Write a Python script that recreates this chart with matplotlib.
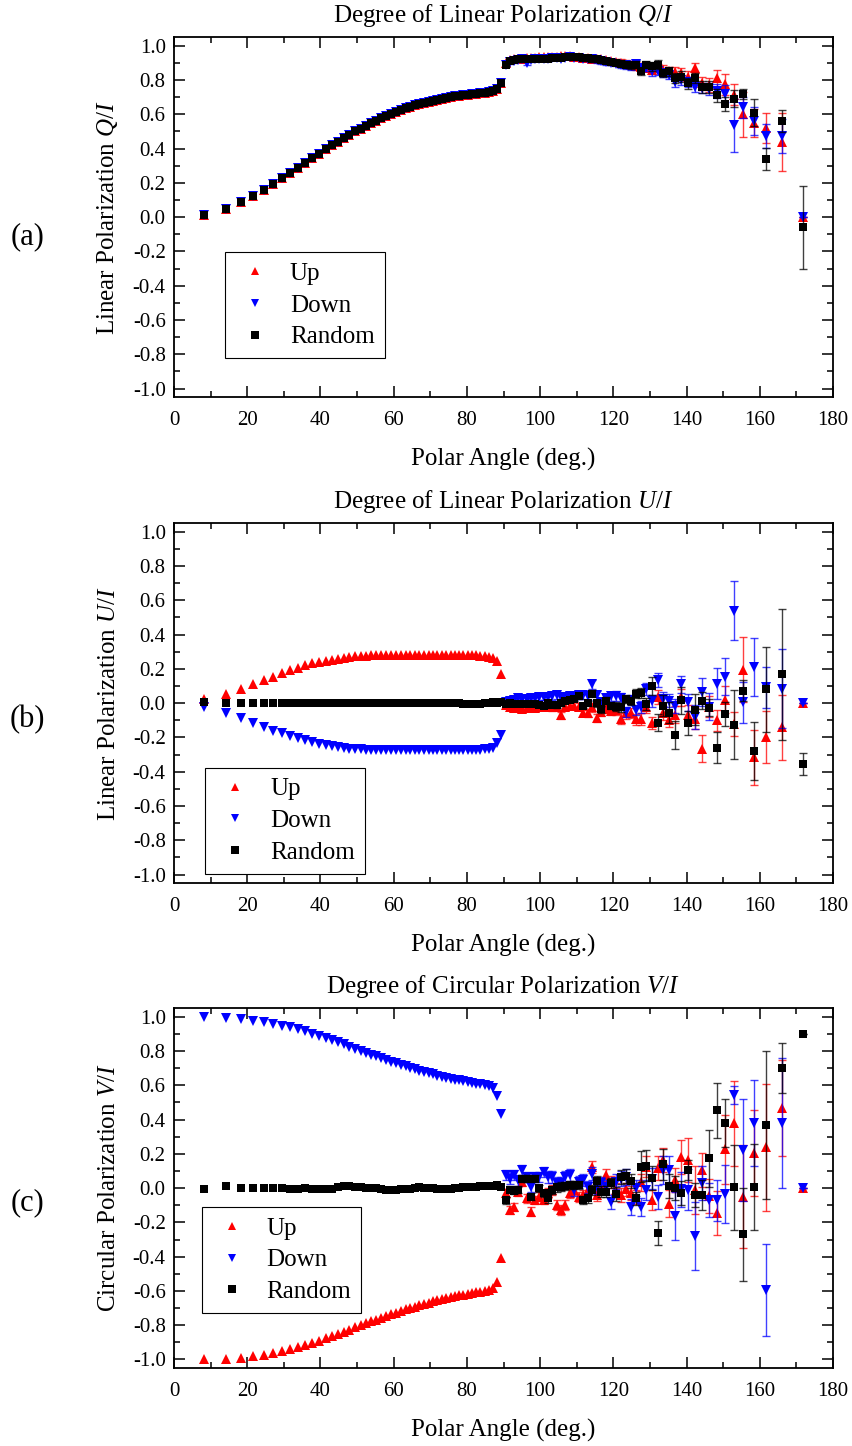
import matplotlib.pyplot as plt
from matplotlib.ticker import MultipleLocator

plt.rcParams['font.family'] = ['Liberation Serif', 'DejaVu Serif']
plt.rcParams['mathtext.fontset'] = 'custom'
plt.rcParams['mathtext.rm'] = 'Liberation Serif'
plt.rcParams['mathtext.it'] = 'Liberation Serif:italic'
plt.rcParams['axes.unicode_minus'] = False

# polar angle bins (deg), forward and backward hemisphere
angles_fwd = [8.11, 14.07, 18.19, 21.57, 24.49, 27.13, 29.54, 31.79, 33.90, 35.90,
              37.81, 39.65, 41.41, 43.11, 44.77, 46.37, 47.93, 49.46, 50.95, 52.41,
              53.84, 55.25, 56.63, 57.99, 59.34, 60.66, 61.97, 63.26, 64.53, 65.80,
              67.05, 68.28, 69.51, 70.73, 71.94, 73.14, 74.34, 75.52, 76.70, 77.88,
              79.05, 80.21, 81.37, 82.53, 83.68, 84.84, 85.99, 87.13, 88.28, 89.43]
angles_bwd = [90.57, 91.72, 92.87, 94.01, 95.16, 96.32, 97.47, 98.63, 99.79, 100.95,
              102.12, 103.30, 104.48, 105.66, 106.86, 108.06, 109.27, 110.49, 111.72, 112.95,
              114.20, 115.47, 116.74, 118.03, 119.34, 120.66, 122.01, 123.37, 124.75, 126.16,
              127.59, 129.05, 130.54, 132.07, 133.63, 135.23, 136.89, 138.59, 140.35, 142.19,
              144.10, 146.10, 148.21, 150.46, 152.87, 155.51, 158.43, 161.81, 165.93, 171.89]

# ---- (a) Q/I ----
q_fwd = [0.015, 0.05, 0.088, 0.125, 0.158, 0.193, 0.226, 0.257, 0.288, 0.317,
         0.345, 0.370, 0.395, 0.418, 0.440, 0.460, 0.480, 0.500, 0.516, 0.532,
         0.548, 0.563, 0.577, 0.590, 0.602, 0.613, 0.624, 0.634, 0.643, 0.652,
         0.660, 0.667, 0.674, 0.680, 0.686, 0.691, 0.696, 0.700, 0.704, 0.708,
         0.711, 0.714, 0.717, 0.720, 0.723, 0.726, 0.730, 0.735, 0.745, 0.780]
q_up_bwd = [0.90, 0.915, 0.92, 0.925, 0.925, 0.93, 0.93, 0.93, 0.935, 0.935,
            0.935, 0.935, 0.935, 0.94, 0.94, 0.94, 0.935, 0.935, 0.93, 0.93,
            0.925, 0.925, 0.92, 0.915, 0.91, 0.905, 0.90, 0.895, 0.89, 0.88,
            0.875, 0.87, 0.86, 0.87, 0.86, 0.85, 0.845, 0.84, 0.82, 0.87,
            0.78, 0.77, 0.81, 0.775, 0.715, 0.60, 0.55, 0.52, 0.44, 0.0]
q_up_err = [0.01, 0.01, 0.01, 0.01, 0.01, 0.01, 0.01, 0.01, 0.01, 0.01,
            0.01, 0.01, 0.01, 0.01, 0.01, 0.01, 0.01, 0.01, 0.01, 0.01,
            0.01, 0.015, 0.015, 0.015, 0.015, 0.015, 0.02, 0.02, 0.02, 0.02,
            0.02, 0.02, 0.025, 0.025, 0.025, 0.025, 0.03, 0.03, 0.03, 0.03,
            0.04, 0.04, 0.05, 0.06, 0.06, 0.13, 0.08, 0.09, 0.17, 0.0]
q_down_bwd = [0.89, 0.905, 0.91, 0.915, 0.92, 0.90, 0.915, 0.92, 0.92, 0.925,
              0.925, 0.93, 0.93, 0.925, 0.93, 0.935, 0.93, 0.93, 0.925, 0.92,
              0.92, 0.915, 0.91, 0.905, 0.90, 0.895, 0.89, 0.885, 0.88, 0.895,
              0.87, 0.87, 0.85, 0.855, 0.84, 0.83, 0.79, 0.80, 0.79, 0.76,
              0.755, 0.745, 0.735, 0.72, 0.535, 0.64, 0.56, 0.475, 0.475, 0.0]
q_down_err = [0.01, 0.01, 0.01, 0.01, 0.01, 0.01, 0.01, 0.01, 0.01, 0.01,
              0.01, 0.01, 0.01, 0.01, 0.01, 0.01, 0.01, 0.01, 0.01, 0.01,
              0.01, 0.015, 0.015, 0.015, 0.015, 0.015, 0.02, 0.02, 0.02, 0.02,
              0.02, 0.02, 0.025, 0.025, 0.025, 0.025, 0.03, 0.03, 0.03, 0.03,
              0.03, 0.035, 0.04, 0.05, 0.155, 0.06, 0.08, 0.07, 0.1, 0.0]
q_rand_bwd = [0.89, 0.91, 0.915, 0.92, 0.92, 0.925, 0.925, 0.925, 0.925, 0.925,
              0.925, 0.93, 0.93, 0.93, 0.935, 0.935, 0.935, 0.935, 0.93, 0.93,
              0.925, 0.92, 0.915, 0.91, 0.905, 0.90, 0.895, 0.89, 0.885, 0.89,
              0.85, 0.89, 0.88, 0.89, 0.84, 0.85, 0.81, 0.82, 0.78, 0.81,
              0.76, 0.76, 0.71, 0.66, 0.69, 0.72, 0.61, 0.34, 0.56, -0.06]
q_rand_err = [0.01, 0.01, 0.01, 0.01, 0.01, 0.01, 0.01, 0.01, 0.01, 0.01,
              0.01, 0.01, 0.01, 0.01, 0.01, 0.01, 0.01, 0.01, 0.01, 0.01,
              0.01, 0.015, 0.015, 0.015, 0.015, 0.015, 0.02, 0.02, 0.02, 0.02,
              0.02, 0.02, 0.025, 0.025, 0.025, 0.025, 0.03, 0.03, 0.03, 0.03,
              0.035, 0.035, 0.04, 0.04, 0.05, 0.03, 0.08, 0.065, 0.065, 0.24]

# ---- (b) U/I ----
u_up_fwd = [0.025, 0.054, 0.08, 0.11, 0.132, 0.155, 0.175, 0.192, 0.207, 0.222,
            0.232, 0.240, 0.247, 0.253, 0.260, 0.265, 0.270, 0.273, 0.275, 0.277,
            0.278, 0.279, 0.28, 0.28, 0.28, 0.281, 0.281, 0.281, 0.281, 0.281,
            0.281, 0.281, 0.281, 0.281, 0.281, 0.281, 0.281, 0.281, 0.281, 0.28,
            0.28, 0.28, 0.279, 0.278, 0.276, 0.274, 0.27, 0.265, 0.245, 0.17]
u_down_fwd = [-0.025, -0.058, -0.088, -0.118, -0.14, -0.16, -0.177, -0.192, -0.206, -0.218,
              -0.228, -0.237, -0.245, -0.252, -0.258, -0.262, -0.266, -0.268, -0.27, -0.272,
              -0.273, -0.274, -0.275, -0.275, -0.276, -0.276, -0.276, -0.276, -0.276, -0.276,
              -0.276, -0.276, -0.276, -0.276, -0.276, -0.276, -0.276, -0.276, -0.276, -0.275,
              -0.275, -0.275, -0.274, -0.273, -0.272, -0.27, -0.266, -0.26, -0.23, -0.185]
u_rand_fwd = [0.005, 0.002, 0.002, 0.002, 0.001, 0.002, 0.002, 0.002, 0.002, 0.001,
              0.0, 0.0, 0.0, -0.001, 0.0, -0.002, 0.0, 0.001, 0.0, -0.002,
              0.0, 0.0, 0.0, 0.001, 0.0, 0.001, 0.002, 0.001, 0.0, 0.0,
              -0.002, 0.0, 0.0, 0.002, 0.003, 0.0, -0.002, 0.0, 0.0, 0.0,
              -0.003, -0.005, -0.008, -0.005, -0.003, 0.0, 0.0, 0.005, 0.002, 0.005]
u_up_bwd = [-0.01, -0.02, -0.03, -0.03, -0.035, -0.03, -0.03, -0.03, -0.025, -0.02,
            -0.02, -0.025, -0.02, -0.07, -0.02, -0.015, -0.015, -0.02, -0.058, -0.06,
            -0.025, -0.086, -0.05, -0.035, -0.045, -0.04, -0.09, -0.06, -0.058, -0.095,
            -0.095, -0.02, -0.115, 0.035, -0.06, -0.10, -0.068, 0.035, -0.07, -0.09,
            -0.266, -0.02, -0.10, 0.021, -0.124, 0.196, -0.315, -0.198, -0.14, 0.0]
u_up_err = [0.015, 0.015, 0.015, 0.015, 0.015, 0.015, 0.015, 0.015, 0.015, 0.015,
            0.02, 0.02, 0.02, 0.02, 0.02, 0.02, 0.02, 0.02, 0.02, 0.02,
            0.025, 0.025, 0.025, 0.025, 0.025, 0.03, 0.03, 0.03, 0.03, 0.03,
            0.035, 0.035, 0.035, 0.04, 0.04, 0.04, 0.05, 0.05, 0.06, 0.06,
            0.08, 0.06, 0.06, 0.08, 0.07, 0.19, 0.16, 0.15, 0.19, 0.0]
u_down_bwd = [0.005, 0.015, 0.02, 0.03, 0.025, 0.025, 0.03, 0.03, 0.035, 0.035,
              0.035, 0.04, 0.045, 0.035, 0.035, 0.04, 0.04, 0.045, 0.045, 0.04,
              0.11, 0.045, 0.005, 0.03, 0.04, 0.04, 0.03, -0.05, 0.02, -0.04,
              -0.025, 0.08, 0.015, 0.136, 0.025, 0.015, -0.015, 0.11, 0.005, -0.08,
              0.065, -0.02, 0.113, 0.155, 0.54, 0.006, 0.21, 0.093, 0.083, 0.0]
u_down_err = [0.015, 0.015, 0.015, 0.015, 0.015, 0.015, 0.015, 0.015, 0.015, 0.015,
              0.02, 0.02, 0.02, 0.02, 0.02, 0.02, 0.02, 0.02, 0.02, 0.02,
              0.025, 0.025, 0.025, 0.025, 0.025, 0.03, 0.03, 0.03, 0.03, 0.03,
              0.035, 0.035, 0.035, 0.04, 0.04, 0.04, 0.04, 0.05, 0.05, 0.07,
              0.08, 0.08, 0.09, 0.11, 0.17, 0.12, 0.17, 0.12, 0.23, 0.0]
u_rand_bwd = [-0.005, 0.0, -0.005, -0.005, -0.005, -0.007, -0.008, -0.008, -0.01, -0.015,
              0.0, -0.01, -0.013, 0.0, 0.015, 0.02, 0.025, 0.04, -0.015, 0.0,
              0.055, 0.0, -0.035, 0.015, -0.015, -0.02, -0.025, 0.025, 0.012, 0.055,
              0.058, -0.004, 0.10, -0.115, -0.014, -0.056, -0.185, 0.016, -0.115, -0.039,
              0.014, -0.027, -0.26, -0.062, -0.126, 0.072, -0.278, 0.08, 0.167, -0.354]
u_rand_err = [0.01, 0.01, 0.01, 0.01, 0.01, 0.01, 0.01, 0.01, 0.01, 0.01,
              0.015, 0.015, 0.015, 0.015, 0.015, 0.015, 0.015, 0.015, 0.015, 0.015,
              0.02, 0.02, 0.02, 0.02, 0.02, 0.025, 0.025, 0.025, 0.025, 0.025,
              0.03, 0.035, 0.05, 0.05, 0.06, 0.06, 0.08, 0.08, 0.07, 0.09,
              0.05, 0.05, 0.09, 0.07, 0.2, 0.06, 0.17, 0.25, 0.38, 0.065]

# ---- (c) V/I ----
v_up_fwd = [-1.0, -0.995, -0.99, -0.982, -0.972, -0.96, -0.95, -0.94, -0.928, -0.916,
            -0.903, -0.89, -0.877, -0.864, -0.851, -0.838, -0.826, -0.813, -0.801, -0.789,
            -0.778, -0.767, -0.756, -0.746, -0.736, -0.726, -0.717, -0.708, -0.699, -0.691,
            -0.683, -0.675, -0.668, -0.661, -0.654, -0.648, -0.642, -0.636, -0.631, -0.626,
            -0.621, -0.617, -0.612, -0.608, -0.604, -0.6, -0.595, -0.585, -0.545, -0.41]
v_down_fwd = [1.0, 0.994, 0.986, 0.977, 0.967, 0.958, 0.948, 0.938, 0.926, 0.914,
              0.902, 0.889, 0.876, 0.864, 0.851, 0.838, 0.826, 0.813, 0.801, 0.79,
              0.779, 0.768, 0.758, 0.748, 0.738, 0.728, 0.719, 0.71, 0.701, 0.693,
              0.685, 0.677, 0.67, 0.663, 0.656, 0.65, 0.644, 0.638, 0.633, 0.628,
              0.623, 0.618, 0.614, 0.61, 0.606, 0.601, 0.595, 0.585, 0.535, 0.43]
v_rand_fwd = [-0.005, 0.01, 0.0, 0.0, 0.0, 0.0, 0.0, -0.003, -0.003, -0.002,
              -0.005, -0.005, -0.003, -0.003, 0.005, 0.01, 0.01, 0.008, 0.005, 0.003,
              0.0, 0.0, -0.005, -0.01, -0.012, -0.01, -0.008, -0.005, -0.005, 0.0,
              0.005, 0.003, 0.0, 0.0, -0.003, -0.005, -0.005, -0.003, 0.0, 0.003,
              0.005, 0.005, 0.005, 0.008, 0.01, 0.012, 0.01, 0.015, 0.02, 0.005]
v_up_bwd = [-0.03, -0.128, -0.11, -0.02, 0.035, -0.06, -0.138, -0.07, -0.05, -0.07,
            -0.03, -0.01, -0.10, -0.128, -0.10, -0.03, -0.01, -0.05, -0.04, -0.01,
            0.125, -0.04, 0.008, 0.075, 0.035, -0.01, -0.04, -0.008, -0.03, -0.05,
            0.035, 0.125, -0.07, 0.12, 0.163, -0.09, 0.047, 0.18, 0.163, -0.01,
            0.105, -0.047, -0.144, 0.226, 0.377, -0.05, 0.206, 0.237, 0.465, 0.0]
v_up_err = [0.025, 0.025, 0.025, 0.025, 0.025, 0.025, 0.025, 0.025, 0.025, 0.025,
            0.03, 0.03, 0.03, 0.03, 0.03, 0.03, 0.03, 0.03, 0.03, 0.03,
            0.035, 0.035, 0.035, 0.035, 0.035, 0.04, 0.04, 0.04, 0.04, 0.04,
            0.05, 0.06, 0.06, 0.07, 0.07, 0.08, 0.07, 0.1, 0.13, 0.14,
            0.1, 0.1, 0.13, 0.2, 0.25, 0.3, 0.25, 0.37, 0.28, 0.0]
v_down_bwd = [0.076, 0.056, 0.076, 0.045, 0.105, 0.066, 0.008, 0.066, 0.066, 0.095,
              0.066, 0.066, 0.027, 0.03, 0.066, 0.076, -0.012, 0.037, 0.047, 0.008,
              0.085, 0.008, 0.027, 0.008, -0.08, 0.037, 0.056, 0.066, -0.11, 0.0,
              -0.11, -0.01, 0.056, -0.05, 0.105, 0.105, -0.163, -0.008, -0.01, -0.28,
              0.03, -0.07, -0.07, -0.035, 0.543, 0.222, 0.38, -0.595, 0.38, 0.0]
v_down_err = [0.03, 0.03, 0.03, 0.03, 0.03, 0.03, 0.03, 0.03, 0.03, 0.03,
              0.035, 0.035, 0.035, 0.035, 0.035, 0.035, 0.035, 0.035, 0.035, 0.035,
              0.04, 0.04, 0.04, 0.04, 0.04, 0.045, 0.045, 0.045, 0.045, 0.045,
              0.05, 0.06, 0.06, 0.07, 0.08, 0.08, 0.14, 0.1, 0.12, 0.2,
              0.1, 0.1, 0.12, 0.17, 0.05, 0.3, 0.25, 0.27, 0.38, 0.0]
v_rand_bwd = [-0.07, -0.01, -0.015, -0.01, 0.056, 0.056, -0.05, 0.056, 0.0, -0.03,
              -0.06, -0.01, 0.005, 0.008, 0.012, 0.018, 0.018, 0.018, -0.07, -0.06,
              -0.01, 0.04, -0.02, -0.02, 0.03, -0.035, 0.066, 0.07, 0.04, -0.06,
              0.125, 0.13, 0.06, -0.26, 0.14, 0.012, 0.0, -0.027, 0.105, -0.04,
              -0.04, 0.173, 0.455, 0.38, 0.004, -0.27, 0.008, 0.368, 0.70, 0.90]
v_rand_err = [0.02, 0.02, 0.02, 0.02, 0.02, 0.02, 0.02, 0.02, 0.02, 0.02,
              0.025, 0.025, 0.025, 0.025, 0.025, 0.025, 0.025, 0.025, 0.025, 0.025,
              0.03, 0.03, 0.03, 0.03, 0.03, 0.04, 0.04, 0.04, 0.04, 0.04,
              0.09, 0.09, 0.07, 0.07, 0.09, 0.07, 0.07, 0.07, 0.06, 0.07,
              0.09, 0.165, 0.16, 0.14, 0.25, 0.27, 0.25, 0.43, 0.145, 0.0]

yticks = [-1.0, -0.8, -0.6, -0.4, -0.2, 0.0, 0.2, 0.4, 0.6, 0.8, 1.0]
xticks = [0, 20, 40, 60, 80, 100, 120, 140, 160, 180]

panels = [
    dict(bottom=0.7254, tag='(a)', tag_y=1 - 237 / 1446,
         title='Degree of Linear Polarization $Q/I$', ylabel='Linear Polarization $Q/I$',
         up=(q_fwd, q_up_bwd, q_up_err), down=(q_fwd, q_down_bwd, q_down_err),
         rand=(q_fwd, q_rand_bwd, q_rand_err), leg=(0.077, 0.402)),
    dict(bottom=0.3893, tag='(b)', tag_y=1 - 720 / 1446,
         title='Degree of Linear Polarization $U/I$', ylabel='Linear Polarization $U/I$',
         up=(u_up_fwd, u_up_bwd, u_up_err), down=(u_down_fwd, u_down_bwd, u_down_err),
         rand=(u_rand_fwd, u_rand_bwd, u_rand_err), leg=(0.047, 0.320)),
    dict(bottom=0.0539, tag='(c)', tag_y=1 - 1203 / 1446,
         title='Degree of Circular Polarization $V/I$', ylabel='Circular Polarization $V/I$',
         up=(v_up_fwd, v_up_bwd, v_up_err), down=(v_down_fwd, v_down_bwd, v_down_err),
         rand=(v_rand_fwd, v_rand_bwd, v_rand_err), leg=(0.042, 0.447)),
]

fig = plt.figure(figsize=(8.53, 14.46), dpi=100)

for p in panels:
    ax = fig.add_axes([0.204, p['bottom'], 0.7726, 0.2489])
    styles = [('Up', 'up', '#ff0000', '^', 7.3),
              ('Down', 'down', '#0000ff', 'v', 7.3),
              ('Random', 'rand', 'black', 's', 6.3)]
    for name, key, color, marker, ms in styles:
        fwd, bwd, err = p[key]
        ax.errorbar(angles_bwd, bwd, yerr=err, fmt='none', ecolor=color,
                    elinewidth=1.0, capsize=3, capthick=1.0, alpha=0.75)
        ax.plot(angles_fwd + angles_bwd, fwd + bwd, linestyle='none', marker=marker,
                color=color, ms=ms, mew=0, label=name)

    ax.set_xlim(0, 180)
    ax.set_ylim(-1.05, 1.05)
    ax.set_xticks(xticks)
    ax.set_yticks(yticks)
    ax.set_yticklabels(['%.1f' % t for t in yticks])
    ax.xaxis.set_minor_locator(MultipleLocator(10))
    ax.yaxis.set_minor_locator(MultipleLocator(0.1))
    ax.tick_params(which='both', direction='in', top=True, right=True, width=1.1)
    ax.tick_params(which='major', length=8, labelsize=15)
    ax.tick_params(axis='x', which='major', pad=10)
    ax.tick_params(axis='y', which='major', pad=6)
    ax.tick_params(which='minor', length=4.5)
    for s in ax.spines.values():
        s.set_linewidth(1.3)

    ax.set_title(p['title'], fontsize=18, pad=11)
    ax.set_xlabel('Polar Angle (deg.)', fontsize=18)
    ax.xaxis.set_label_coords(0.5, -0.14)
    ax.set_ylabel(p['ylabel'], fontsize=18)
    ax.yaxis.set_label_coords(-0.082, 0.5)

    leg = ax.legend(loc='upper left', bbox_to_anchor=p['leg'], fontsize=18,
                    fancybox=False, edgecolor='black', framealpha=1,
                    handlelength=1.6, handletextpad=0.6, labelspacing=0.37,
                    borderpad=0.4, borderaxespad=0, markerscale=0.85)
    leg.get_frame().set_linewidth(0.8)

    fig.text(0.032, p['tag_y'], p['tag'], ha='center', va='center', fontsize=22)

fig.savefig('out.png', dpi=100)
